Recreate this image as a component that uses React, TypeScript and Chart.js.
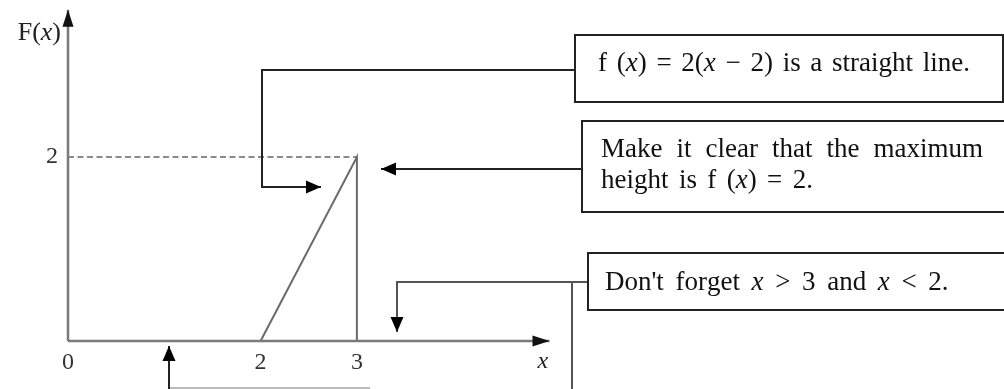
import React, { useEffect, useRef } from "react";
import { Chart, registerables } from "chart.js";

Chart.register(...registerables);

// ---- data ----
const xTickValues = [0, 2, 3];
const xTickLabels = ["0", "2", "3"];
const yTickValues = [2];
const yTickLabels = ["2"];
const fX = [2, 3, 3];
const fY = [0, 2, 0];
const maxHeight = 2;
const maxHeightX = 3;
const xAxisEnd = 5.0;
const yAxisEnd = 3.6;
const xAxisTitleAt = 4.93;

type Run = { t: string; it?: boolean };
const note1: Run[][] = [
  [{ t: "f (" }, { t: "x", it: true }, { t: ") = 2(" }, { t: "x", it: true }, { t: " − 2) is a straight line." }],
];
const note2: Run[][] = [
  [{ t: "Make it clear that the maximum" }],
  [{ t: "height is f (" }, { t: "x", it: true }, { t: ") = 2." }],
];
const note3: Run[][] = [
  [{ t: "Don't forget " }, { t: "x", it: true }, { t: " > 3 and " }, { t: "x", it: true }, { t: " < 2." }],
];

// ---- layout (pixels) ----
const FONT = '"Liberation Serif", "Times New Roman", serif';
const TEXT_SIZE = 27;
const boxes = [
  { x: 575, y: 35, w: 428, h: 67, lines: note1, tx: 598, base: [71], widths: [372] },
  { x: 582, y: 121, w: 440, h: 91, lines: note2, tx: 601, base: [157, 188], widths: [382, 212] },
  { x: 588, y: 253, w: 440, h: 57, lines: note3, tx: 605, base: [290], widths: [343] },
];
const connectors: { pts: number[][]; arrow: boolean; color: string; width: number }[] = [
  { pts: [[575, 70], [262, 70], [262, 187], [321, 187]], arrow: true, color: "#222", width: 2 },
  { pts: [[582, 169], [381, 169]], arrow: true, color: "#222", width: 2 },
  { pts: [[588, 282], [397, 282], [397, 332]], arrow: true, color: "#555", width: 2 },
  { pts: [[572, 282], [572, 395]], arrow: false, color: "#555", width: 2 },
  { pts: [[370, 388], [169, 388]], arrow: false, color: "#bbb", width: 2 },
  { pts: [[169, 395], [169, 346]], arrow: true, color: "#222", width: 2 },
];

function arrowHead(ctx: CanvasRenderingContext2D, x0: number, y0: number, x1: number, y1: number, len: number, half: number, color: string) {
  const a = Math.atan2(y1 - y0, x1 - x0);
  ctx.save();
  ctx.fillStyle = color;
  ctx.beginPath();
  ctx.moveTo(x1, y1);
  ctx.lineTo(x1 - len * Math.cos(a) + half * Math.sin(a), y1 - len * Math.sin(a) - half * Math.cos(a));
  ctx.lineTo(x1 - len * Math.cos(a) - half * Math.sin(a), y1 - len * Math.sin(a) + half * Math.cos(a));
  ctx.closePath();
  ctx.fill();
  ctx.restore();
}

function fontFor(run: Run, size: number) {
  return `${run.it ? "italic " : ""}${size}px ${FONT}`;
}

function drawRuns(ctx: CanvasRenderingContext2D, runs: Run[], x: number, y: number, size: number, target: number) {
  let natural = 0;
  let spaces = 0;
  for (const r of runs) {
    ctx.font = fontFor(r, size);
    natural += ctx.measureText(r.t).width;
    spaces += (r.t.match(/ /g) || []).length;
  }
  const extra = spaces > 0 ? (target - natural) / spaces : 0;
  let cx = x;
  for (const r of runs) {
    ctx.font = fontFor(r, size);
    for (const ch of r.t) {
      ctx.fillText(ch, cx, y);
      cx += ctx.measureText(ch).width + (ch === " " ? extra : 0);
    }
  }
}

const overlay = {
  id: "overlay",
  afterDatasetsDraw(chart: any) {
    const ctx: CanvasRenderingContext2D = chart.ctx;
    const xs = chart.scales.x;
    const ys = chart.scales.y;
    const px = (v: number) => xs.getPixelForValue(v);
    const py = (v: number) => ys.getPixelForValue(v);
    ctx.save();
    // axis arrowheads
    arrowHead(ctx, px(0), py(0), px(xAxisEnd), py(0), 17, 5.5, "#111");
    arrowHead(ctx, px(0), py(0), px(0), py(yAxisEnd), 17, 5.5, "#111");
    // tick labels
    ctx.fillStyle = "#333";
    ctx.textAlign = "center";
    ctx.textBaseline = "middle";
    ctx.font = `24px ${FONT}`;
    xTickValues.forEach((v, i) => ctx.fillText(xTickLabels[i], px(v), py(0) + 22));
    ctx.textAlign = "right";
    yTickValues.forEach((v, i) => ctx.fillText(yTickLabels[i], px(0) - 10, py(v)));
    // axis titles
    ctx.fillStyle = "#222";
    ctx.textAlign = "center";
    ctx.font = `italic 24px ${FONT}`;
    ctx.fillText("x", px(xAxisTitleAt), py(0) + 21);
    ctx.textAlign = "left";
    const tsz = 26;
    ctx.font = `${tsz}px ${FONT}`;
    const w1 = ctx.measureText("F(").width;
    ctx.font = `italic ${tsz}px ${FONT}`;
    const w2 = ctx.measureText("x").width;
    ctx.font = `${tsz}px ${FONT}`;
    const w3 = ctx.measureText(")").width;
    const start = px(0) - 7 - (w1 + w2 + w3);
    const ty = py(yAxisEnd) + 23;
    ctx.fillText("F(", start, ty);
    ctx.font = `italic ${tsz}px ${FONT}`;
    ctx.fillText("x", start + w1, ty);
    ctx.font = `${tsz}px ${FONT}`;
    ctx.fillText(")", start + w1 + w2, ty);

    // connectors
    ctx.lineCap = "butt";
    for (const c of connectors) {
      ctx.strokeStyle = c.color;
      ctx.lineWidth = c.width;
      ctx.beginPath();
      c.pts.forEach((p, i) => (i === 0 ? ctx.moveTo(p[0], p[1]) : ctx.lineTo(p[0], p[1])));
      ctx.stroke();
      if (c.arrow) {
        const n = c.pts.length;
        arrowHead(ctx, c.pts[n - 2][0], c.pts[n - 2][1], c.pts[n - 1][0], c.pts[n - 1][1], 15, 6.5, "#000");
      }
    }
    // boxes
    for (const b of boxes) {
      ctx.fillStyle = "#fff";
      ctx.fillRect(b.x, b.y, b.w, b.h);
      ctx.strokeStyle = "#222";
      ctx.lineWidth = 2;
      ctx.strokeRect(b.x, b.y, b.w, b.h);
      ctx.fillStyle = "#111";
      ctx.textAlign = "left";
      ctx.textBaseline = "alphabetic";
      b.lines.forEach((runs, i) => drawRuns(ctx, runs, b.tx, b.base[i], TEXT_SIZE, b.widths[i]));
    }
    ctx.restore();
  },
};

export default function App() {
  const ref = useRef<HTMLCanvasElement>(null);
  useEffect(() => {
    if (!ref.current) return;
    const chart = new Chart(ref.current, {
      type: "scatter",
      data: {
        datasets: [
          {
            data: [{ x: 0, y: 0 }, { x: xAxisEnd, y: 0 }],
            showLine: true, borderColor: "#7a7a7a", borderWidth: 2.5, pointRadius: 0, clip: false as any,
          },
          {
            data: [{ x: 0, y: 0 }, { x: 0, y: yAxisEnd }],
            showLine: true, borderColor: "#7a7a7a", borderWidth: 2.5, pointRadius: 0, clip: false as any,
          },
          {
            data: [{ x: 0, y: maxHeight }, { x: maxHeightX, y: maxHeight }],
            showLine: true, borderColor: "#666", borderWidth: 1.5, borderDash: [6, 3.5], pointRadius: 0, clip: false as any,
          },
          {
            data: fX.map((x, i) => ({ x, y: fY[i] })),
            showLine: true, borderColor: "#6a6a6a", borderWidth: 2, pointRadius: 0, clip: false as any,
          },
        ],
      },
      options: {
        responsive: false,
        animation: false,
        devicePixelRatio: 1,
        layout: { padding: { left: 68, right: 1004 - 68 - 9.5 * 96.3, top: 341 - 3.5 * 92, bottom: 48 } },
        plugins: { legend: { display: false }, tooltip: { enabled: false } },
        events: [],
        scales: {
          x: { type: "linear", min: 0, max: 9.5, display: false },
          y: { type: "linear", min: 0, max: 3.5, display: false },
        },
      },
      plugins: [overlay],
    });
    return () => chart.destroy();
  }, []);
  return (
    <div style={{ position: "absolute", left: 0, top: 0, width: 1004, height: 389, background: "#fff" }}>
      <canvas ref={ref} width={1004} height={389} style={{ display: "block" }} />
    </div>
  );
}
